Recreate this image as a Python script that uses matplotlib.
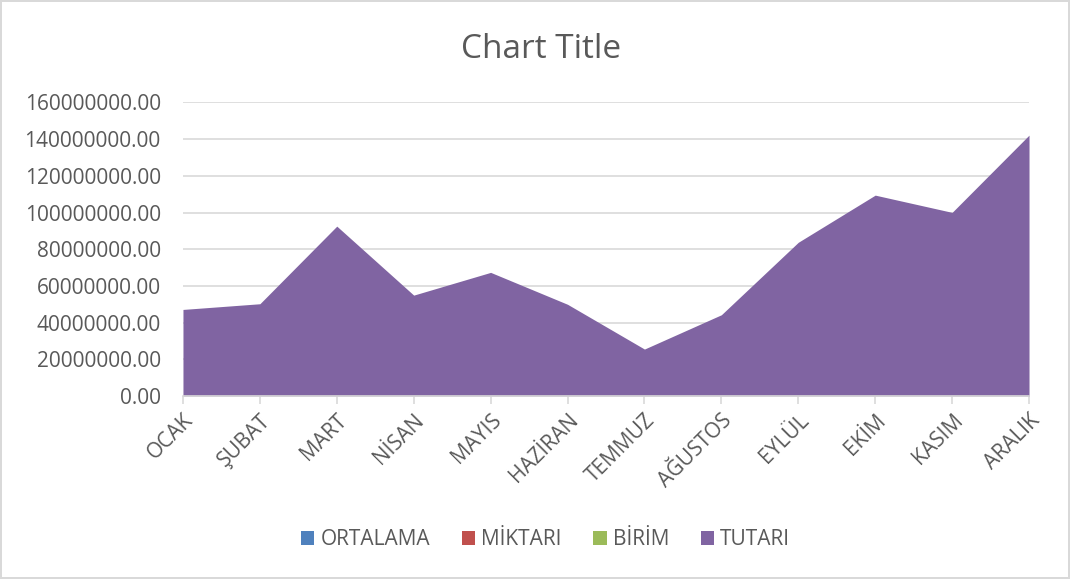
import matplotlib.pyplot as plt
from matplotlib.patches import Patch

# Data
months = ["OCAK", "ŞUBAT", "MART", "NİSAN", "MAYIS", "HAZİRAN",
          "TEMMUZ", "AĞUSTOS", "EYLÜL", "EKİM", "KASIM", "ARALIK"]
tutari = [47.2e6, 50.3e6, 92.6e6, 55.0e6, 67.4e6, 50.0e6,
          25.6e6, 44.3e6, 83.8e6, 109.5e6, 100.1e6, 142.2e6]
# the other series are too small to be seen under TUTARI
ortalama = [0] * 12
miktari = [0] * 12
birim = [0] * 12

series_names = ["ORTALAMA", "MİKTARI", "BİRİM", "TUTARI"]
series_colors = ["#4f81bd", "#c0504d", "#9bbb59", "#8064a2"]
y_ticks = [0, 20e6, 40e6, 60e6, 80e6, 100e6, 120e6, 140e6, 160e6]

plt.rcParams['font.family'] = ['Open Sans', 'DejaVu Sans']
text_color = "#595959"

fig = plt.figure(figsize=(10.7, 5.79), dpi=100)
fig.patch.set_edgecolor("#d9d9d9")
fig.patch.set_linewidth(1.5)
ax = fig.add_axes([0.171, 0.316, 0.7907, 0.507])

x = range(len(months))
for vals, name, col in zip([ortalama, miktari, birim, tutari], series_names, series_colors):
    ax.fill_between(x, vals, 0, color=col, linewidth=0, zorder=2)

ax.set_xlim(0, len(months) - 1)
ax.set_ylim(0, 160e6)
ax.set_yticks(y_ticks)
ax.set_yticklabels([f"{v:.2f}" for v in y_ticks])
ax.set_xticks(list(x))
ax.set_xticklabels(months, rotation=45, ha="right", rotation_mode="anchor")

ax.grid(axis="y", color="#d9d9d9", linewidth=1.2, zorder=0)
ax.set_axisbelow(True)
for side in ["top", "right", "left"]:
    ax.spines[side].set_visible(False)
ax.spines["bottom"].set_color("#d9d9d9")
ax.spines["bottom"].set_linewidth(1.2)
ax.tick_params(axis="y", length=0, pad=16, labelsize=15, labelcolor=text_color)
ax.tick_params(axis="x", length=6, color="#d9d9d9", width=1.2, pad=4,
               labelsize=15, labelcolor=text_color)

fig.text(0.506, 0.915, "Chart Title", ha="center", va="center",
         fontsize=24, color=text_color)

handles = [Patch(facecolor=c, label=n) for n, c in zip(series_names, series_colors)]
fig.legend(handles=handles, loc="center", bbox_to_anchor=(0.51, 0.068), ncol=4,
           frameon=False, fontsize=15, labelcolor=text_color,
           handlelength=0.65, handleheight=0.65, handletextpad=0.3, columnspacing=1.5)

fig.savefig("out.png", dpi=100)
